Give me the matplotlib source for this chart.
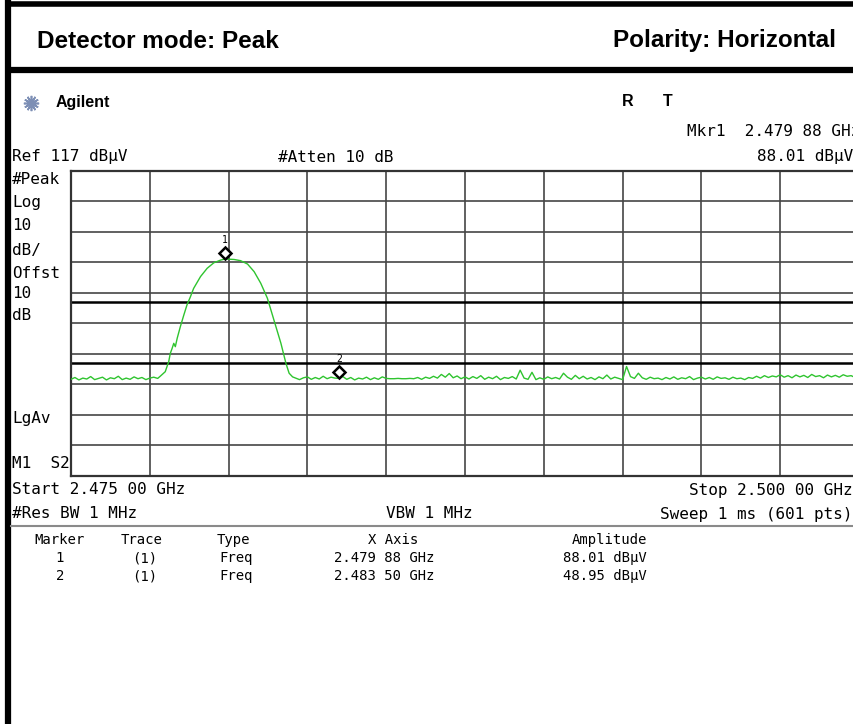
import numpy as np
import matplotlib.pyplot as plt
from matplotlib import transforms

# analyzer settings
f_start = 2.475   # GHz
f_stop = 2.500
ref_level = 117   # dBuV
db_div = 10

# trace (dBuV)
# noise floor left of the signal, 0.125 MHz steps from start
floor_left = [48.6, 49.2, 48.4, 49.0, 48.7, 49.5, 48.5, 48.9, 49.3, 48.4, 49.1, 48.8,
              49.6, 48.5, 49.0, 48.6, 49.4, 48.8, 49.2, 48.5, 49.0, 49.3, 48.9]
# the signal itself, MHz above start
hump_mhz = [2.83, 2.99, 3.10, 3.15, 3.21, 3.26, 3.31, 3.37, 3.47, 3.58, 3.68, 3.79, 3.89,
            4.11, 4.32, 4.53, 4.75, 4.88, 4.96, 5.17, 5.38, 5.60, 5.81, 6.02, 6.23,
            6.44, 6.66, 6.82, 6.92, 7.03]
hump_amp = [49.6, 51.1, 54.4, 57.1, 58.8, 60.4, 59.3, 62.1, 65.9, 69.7, 73.0, 75.7, 78.4,
            82.3, 85.0, 86.8, 87.7, 88.0, 88.0, 87.9, 87.5, 86.4, 83.9, 80.1, 75.2,
            68.0, 60.4, 53.8, 50.6, 49.4]
# noise floor right of the signal, 0.125 MHz steps from 7.125 MHz
floor_right = [49.0, 48.5, 49.1, 49.4, 48.6, 49.2, 48.7, 49.6, 48.8, 49.3, 49.0, 48.9,
               49.5, 48.6, 49.2, 48.4, 49.0, 48.7, 49.3, 48.5, 49.1, 48.6, 49.4, 48.9,
               48.8, 48.8, 48.9, 48.8, 48.8, 48.9, 48.8, 49.2, 48.6, 49.3, 48.9, 49.6,
               49.0, 50.2, 49.3, 50.5, 49.1, 49.7, 48.8, 49.4, 48.7, 49.5, 48.9, 49.8,
               48.6, 49.3, 48.8, 49.6, 48.5, 49.2, 48.9, 49.5, 48.7, 51.6, 49.0, 48.6,
               50.9, 48.5, 49.1, 48.6, 49.4, 48.8, 49.2, 48.7, 50.6, 49.3, 48.6, 49.9,
               48.8, 49.6, 48.7, 49.2, 48.5, 49.4, 48.8, 50.0, 48.7, 49.3, 48.9, 48.5,
               52.8, 49.5, 48.9, 50.6, 49.1, 48.6, 49.3, 48.8, 49.0, 48.5, 49.2, 48.7,
               49.4, 48.6, 49.1, 48.8, 49.5, 48.5, 49.0, 49.3, 48.7, 49.2, 48.6, 49.4,
               48.9, 49.1, 48.6, 49.3, 48.8, 49.0, 48.5, 49.2, 48.9, 49.6, 49.0, 49.8,
               49.2, 49.7, 49.4, 50.1, 49.3, 49.8, 49.1, 50.0, 49.4, 49.9, 49.2, 50.2,
               49.5, 49.8, 49.1, 50.0, 49.4, 49.9, 49.3, 50.1, 49.6, 49.8, 49.2, 49.7]

limit_lines = [74, 54]   # display lines, dBuV

mkr_freq = [2.47988, 2.48350]
mkr_amp = [88.01, 48.95]
mkr_name = ['1', '2']
mkr_freq_txt = ['2.479 88 GHz', '2.483 50 GHz']
mkr_amp_txt = ['88.01 dB\u03bcV', '48.95 dB\u03bcV']

step = 0.000125
f_left = f_start + step * np.arange(len(floor_left))
f_hump = f_start + np.array(hump_mhz) / 1000
f_right = f_start + 0.007125 + step * np.arange(len(floor_right))
freq = np.concatenate([f_left, f_hump, f_right])
amp = np.concatenate([floor_left, hump_amp, floor_right])

W, H = 854, 724
fig = plt.figure(figsize=(W / 100, H / 100), dpi=100)
ov = fig.add_axes([0, 0, 1, 1])
ov.set_xlim(0, W)
ov.set_ylim(H, 0)
ov.axis('off')

# graticule (the screenshot cuts off its right edge)
x0, x1, y0, y1 = 71, 859, 170.7, 475.7
ax = fig.add_axes([x0 / W, 1 - y1 / H, (x1 - x0) / W, (y1 - y0) / H])
ax.set_xlim(f_start, f_stop)
ax.set_ylim(ref_level - 10 * db_div, ref_level)
ax.set_xticks(np.linspace(f_start, f_stop, 11))
ax.set_yticks(np.arange(ref_level - 10 * db_div, ref_level + 1, db_div))
ax.set_axisbelow(True)
ax.grid(True, color='#454545', lw=1.2)
ax.tick_params(length=0, labelbottom=False, labelleft=False)
for s in ax.spines.values():
    s.set_color('#333333')
    s.set_linewidth(1.6)
for lv in limit_lines:
    ax.axhline(lv, color='black', lw=1.8, zorder=2)
ax.plot(freq, amp, color='#2fc42f', lw=1.0, zorder=3)

# markers sit a little above the trace point
up_d = transforms.offset_copy(ax.transData, fig=fig, y=6, units='dots')
up_t = transforms.offset_copy(ax.transData, fig=fig, y=19, units='dots')
ax.plot(mkr_freq, mkr_amp, 'D', ms=6.5, mfc='white', mec='black', mew=1.8,
        transform=up_d, zorder=4, clip_on=False)
for f, a, n in zip(mkr_freq, mkr_amp, mkr_name):
    ax.text(f, a, n, transform=up_t, ha='center', va='center', fontsize=7,
            family='DejaVu Sans Mono', zorder=4)

# frame of the report page
ov.plot([8, 8], [0, H], color='black', lw=4.5, solid_capstyle='butt')
ov.plot([8, W], [3.5, 3.5], color='black', lw=4, solid_capstyle='butt')
ov.plot([8, W], [70, 70], color='black', lw=4.5, solid_capstyle='butt')
ov.plot([11, W], [526, 526], color='#8a8a8a', lw=1.5)

sans = 'Liberation Sans'
ov.text(37, 41, 'Detector mode: Peak', fontsize=17.5, fontweight='bold', family=sans,
        va='center', ha='left')
ov.text(836, 41, 'Polarity: Horizontal', fontsize=17.5, fontweight='bold', family=sans,
        va='center', ha='right')
ov.plot([31], [103], marker=(12, 2, 0), ms=11, color='#7d8fb5', mew=1.2)
ov.text(56, 103, 'Agilent', fontsize=11.5, fontweight='bold', family=sans, va='center')
ov.text(628, 101, 'R', fontsize=11.5, fontweight='bold', family=sans, va='center', ha='center')
ov.text(668, 101, 'T', fontsize=11.5, fontweight='bold', family=sans, va='center', ha='center')

mono = 'DejaVu Sans Mono'
fs = 11.5
ov.text(687, 132, 'Mkr1  ' + mkr_freq_txt[0], fontsize=fs, family=mono, va='center')
ov.text(853, 156, mkr_amp_txt[0], fontsize=fs, family=mono, va='center', ha='right')
ov.text(12, 157, 'Ref %d dB\u03bcV' % ref_level, fontsize=fs, family=mono, va='center')
ov.text(278, 157, '#Atten 10 dB', fontsize=fs, family=mono, va='center')

side = [('#Peak', 179), ('Log', 202), ('10', 226), ('dB/', 250), ('Offst', 274),
        ('10', 294), ('dB', 316), ('LgAv', 418), ('M1  S2', 463)]
for s, y in side:
    ov.text(12, y, s, fontsize=fs, family=mono, va='center')

ov.text(12, 490, 'Start %.3f 00 GHz' % f_start, fontsize=fs, family=mono, va='center')
ov.text(853, 490, 'Stop %.3f 00 GHz' % f_stop, fontsize=fs, family=mono, va='center', ha='right')
ov.text(12, 514, '#Res BW 1 MHz', fontsize=fs, family=mono, va='center')
ov.text(386, 514, 'VBW 1 MHz', fontsize=fs, family=mono, va='center')
ov.text(853, 514, 'Sweep 1 ms (601 pts)', fontsize=fs, family=mono, va='center', ha='right')

# marker table
ft = 10
hy, ry = 540, [558, 576]
ov.text(60, hy, 'Marker', fontsize=ft, family=mono, va='center', ha='center')
ov.text(142, hy, 'Trace', fontsize=ft, family=mono, va='center', ha='center')
ov.text(217, hy, 'Type', fontsize=ft, family=mono, va='center')
ov.text(393, hy, 'X Axis', fontsize=ft, family=mono, va='center', ha='center')
ov.text(647, hy, 'Amplitude', fontsize=ft, family=mono, va='center', ha='right')
for y, n, ftx, atx in zip(ry, mkr_name, mkr_freq_txt, mkr_amp_txt):
    ov.text(60, y, n, fontsize=ft, family=mono, va='center', ha='center')
    ov.text(145, y, '(1)', fontsize=ft, family=mono, va='center', ha='center')
    ov.text(219, y, 'Freq', fontsize=ft, family=mono, va='center')
    ov.text(384, y, ftx, fontsize=ft, family=mono, va='center', ha='center')
    ov.text(647, y, atx, fontsize=ft, family=mono, va='center', ha='right')

fig.savefig('out.png', dpi=100)
